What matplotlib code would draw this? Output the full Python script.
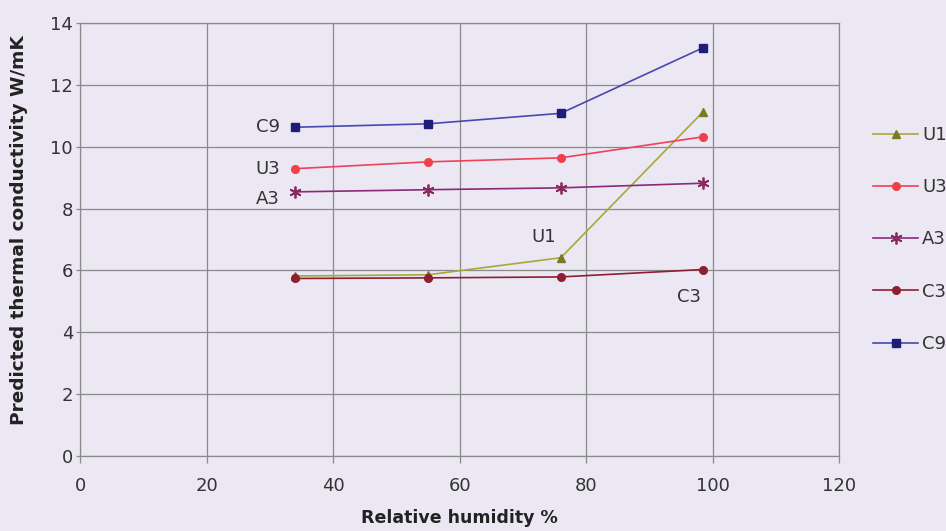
import matplotlib
matplotlib.use("Agg")
import matplotlib.pyplot as plt

plt.rcParams['font.family'] = ['DejaVu Sans']

rh = [34, 55, 76, 98.5]
u1 = [5.82, 5.86, 6.41, 11.13]
u3 = [9.29, 9.51, 9.64, 10.32]
a3 = [8.54, 8.61, 8.67, 8.82]
c3 = [5.74, 5.76, 5.79, 6.03]
c9 = [10.63, 10.74, 11.08, 13.20]

series_names = ["U1", "U3", "A3", "C3", "C9"]
x_ticks = [0, 20, 40, 60, 80, 100, 120]
y_ticks = [0, 2, 4, 6, 8, 10, 12, 14]

bg = "#ebe7f3"
fig = plt.figure(figsize=(9.46, 5.31), dpi=100, facecolor=bg)
ax = fig.add_axes([0.0846, 0.1412, 0.8024, 0.8155], facecolor=bg)

styles = {
    "U1": dict(color="#a8a838", marker="^", mfc="#7a7a1e", mec="#7a7a1e", ms=6),
    "U3": dict(color="#f0405a", marker="o", mfc="#f0404a", mec="#f0404a", ms=5.5),
    "A3": dict(color="#8a2a78", marker=(6, 2, 0), mfc="#8a2a60", mec="#8a2a60", ms=8.5, mew=1.3),
    "C3": dict(color="#8e1e30", marker="o", mfc="#8e1e30", mec="#8e1e30", ms=5.5),
    "C9": dict(color="#4848b0", marker="s", mfc="#1e1e78", mec="#1e1e78", ms=5.5),
}
data = {"U1": u1, "U3": u3, "A3": a3, "C3": c3, "C9": c9}

handles = []
for name in series_names:
    st = styles[name]
    h, = ax.plot(rh, data[name], color=st["color"], lw=1.2, marker=st["marker"],
                 mfc=st["mfc"], mec=st["mec"], ms=st["ms"], mew=st.get("mew", 1),
                 label=name)
    handles.append(h)

ax.set_xlim(0, 120)
ax.set_ylim(0, 14)
ax.set_xticks(x_ticks)
ax.set_yticks(y_ticks)
ax.grid(True, color="#8a8a8a", lw=0.9)
ax.set_axisbelow(True)
for s in ax.spines.values():
    s.set_visible(False)
for xv in (0, 120):
    ax.axvline(xv, color="#8a8a8a", lw=0.9, zorder=0.5, clip_on=False)
for yv in (0, 14):
    ax.axhline(yv, color="#8a8a8a", lw=0.9, zorder=0.5, clip_on=False)
ax.tick_params(axis="both", colors="#8a8a8a", labelcolor="#333333", labelsize=13, width=0.9)
ax.tick_params(axis="x", length=5, pad=10)
ax.tick_params(axis="y", length=3, pad=2)

ax.set_xlabel("Relative humidity %", fontsize=12.5, fontweight="bold", color="#222222", labelpad=10)
ax.set_ylabel("Predicted thermal conductivity W/mK", fontsize=13.3, fontweight="bold",
              color="#222222")
ax.yaxis.set_label_coords(-0.069, 0.522)

# data labels
lab_kw = dict(fontsize=13, color="#333333", textcoords="offset points")
ax.annotate("C9", xy=(rh[0], c9[0]), xytext=(-11, 0), ha="right", va="center", **lab_kw)
ax.annotate("U3", xy=(rh[0], u3[0]), xytext=(-11, 0), ha="right", va="center", **lab_kw)
ax.annotate("A3", xy=(rh[0], a3[0]), xytext=(-11, -5), ha="right", va="center", **lab_kw)
ax.annotate("U1", xy=(rh[2], u1[2]), xytext=(-12, 15), ha="center", va="center", **lab_kw)
ax.annotate("C3", xy=(rh[3], c3[3]), xytext=(-10, -20), ha="center", va="center", **lab_kw)

leg = fig.legend(handles=handles, loc="center left", bbox_to_anchor=(0.906, 0.549),
                 frameon=False, fontsize=13, labelspacing=1.9, handlelength=2.5,
                 handletextpad=0.2, labelcolor="#333333")

fig.savefig("out.png", dpi=100, facecolor=bg)
